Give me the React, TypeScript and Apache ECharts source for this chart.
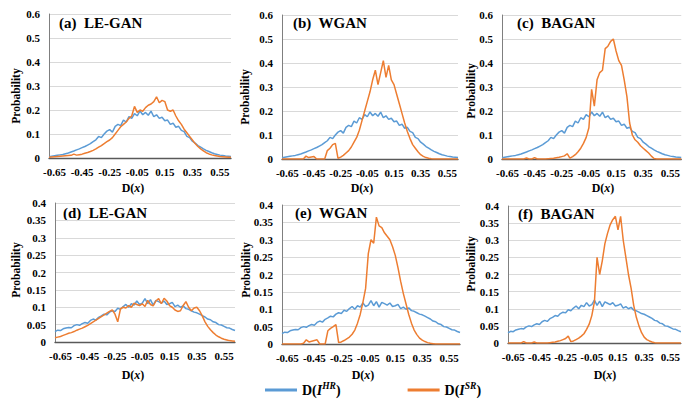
import React, { useEffect, useRef } from "react";
import * as echarts from "echarts";

const X_CATS = [
  "-0.69", "-0.67", "-0.65", "-0.63", "-0.61", "-0.59", "-0.57", "-0.55", "-0.53", "-0.51",
  "-0.49", "-0.47", "-0.45", "-0.43", "-0.41", "-0.39", "-0.37", "-0.35", "-0.33", "-0.31",
  "-0.29", "-0.27", "-0.25", "-0.23", "-0.21", "-0.19", "-0.17", "-0.15", "-0.13", "-0.11",
  "-0.09", "-0.07", "-0.05", "-0.03", "-0.01", "0.01", "0.03", "0.05", "0.07", "0.09",
  "0.11", "0.13", "0.15", "0.17", "0.19", "0.21", "0.23", "0.25", "0.27", "0.29",
  "0.31", "0.33", "0.35", "0.37", "0.39", "0.41", "0.43", "0.45", "0.47", "0.49",
  "0.51", "0.53", "0.55", "0.57", "0.59", "0.61", "0.63",
];
const X_TICKS = ["-0.65", "-0.45", "-0.25", "-0.05", "0.15", "0.35", "0.55"];

const HR_TOP = [
  0.005, 0.007, 0.009, 0.011, 0.013, 0.015, 0.018, 0.021, 0.025, 0.029,
  0.034, 0.038, 0.043, 0.048, 0.054, 0.06, 0.068, 0.076, 0.09, 0.085,
  0.1, 0.112, 0.118, 0.108, 0.132, 0.14, 0.135, 0.158, 0.15, 0.172,
  0.165, 0.185, 0.176, 0.196, 0.18, 0.19, 0.178, 0.195, 0.172, 0.18,
  0.165, 0.17, 0.155, 0.158, 0.14, 0.145, 0.128, 0.132, 0.115, 0.11,
  0.09, 0.085, 0.07, 0.062, 0.052, 0.045, 0.038, 0.032, 0.027, 0.022,
  0.018, 0.015, 0.012, 0.01, 0.008, 0.007, 0.006,
];
const SR_A = [
  0.003, 0.004, 0.005, 0.006, 0.007, 0.008, 0.009, 0.01, 0.011, 0.016,
  0.012, 0.014, 0.016, 0.02, 0.023, 0.027, 0.032, 0.038, 0.045, 0.052,
  0.06, 0.068, 0.075, 0.085, 0.1, 0.115, 0.13, 0.14, 0.15, 0.165,
  0.175, 0.215, 0.19, 0.2, 0.195, 0.21, 0.22, 0.225, 0.235, 0.255,
  0.23, 0.24, 0.235, 0.2, 0.195, 0.2, 0.175, 0.155, 0.14, 0.12,
  0.105, 0.09, 0.075, 0.06, 0.048, 0.038, 0.03, 0.022, 0.017, 0.013,
  0.01, 0.008, 0.006, 0.005, 0.004, 0.003, 0.003,
];
const SR_B = [
  0, 0, 0, 0, 0, 0, 0, 0, 0, 0.012,
  0.006, 0.008, 0.01, 0, 0, 0, 0, 0.035, 0.045, 0.06,
  0.065, 0.003, 0.008, 0.015, 0.025, 0.035, 0.05, 0.07, 0.09, 0.12,
  0.16, 0.2, 0.24, 0.28, 0.33, 0.37, 0.31, 0.36, 0.41, 0.34,
  0.39, 0.33, 0.31, 0.27, 0.23, 0.19, 0.15, 0.115, 0.085, 0.06,
  0.045, 0.03, 0.018, 0.011, 0.006, 0.003, 0.001, 0, 0, 0,
  0, 0, 0, 0, 0, 0, 0,
];
const SR_C = [
  0, 0, 0, 0, 0, 0, 0, 0, 0, 0.004,
  0, 0, 0.006, 0, 0, 0, 0, 0.001, 0.002, 0.003,
  0.005, 0.007, 0.01, 0.013, 0.022, 0.004, 0.01, 0.018, 0.03, 0.045,
  0.065, 0.09, 0.13, 0.29, 0.22, 0.33, 0.36, 0.37, 0.46, 0.47,
  0.49, 0.5, 0.45, 0.41, 0.39, 0.33, 0.26, 0.15, 0.1, 0.08,
  0.07, 0.055, 0.045, 0.035, 0.025, 0.012, 0.002, 0, 0, 0,
  0, 0, 0, 0, 0, 0, 0,
];
const HR_BOT = [
  0.03, 0.034, 0.033, 0.038, 0.04, 0.042, 0.041, 0.047, 0.05, 0.048,
  0.053, 0.056, 0.054, 0.062, 0.066, 0.063, 0.071, 0.075, 0.08, 0.078,
  0.086, 0.09, 0.088, 0.097, 0.094, 0.102, 0.108, 0.1, 0.11, 0.106,
  0.118, 0.108, 0.112, 0.125, 0.11, 0.122, 0.106, 0.12, 0.116, 0.112,
  0.118, 0.108, 0.11, 0.114, 0.102, 0.106, 0.1, 0.104, 0.096, 0.094,
  0.09, 0.086, 0.084, 0.08, 0.076, 0.072, 0.066, 0.064, 0.058, 0.056,
  0.05, 0.049, 0.045, 0.041, 0.04, 0.036, 0.033,
];
const SR_D = [
  0.012, 0.014, 0.016, 0.019, 0.022, 0.025, 0.027, 0.03, 0.034, 0.037,
  0.04, 0.044, 0.048, 0.053, 0.058, 0.063, 0.068, 0.073, 0.078, 0.083,
  0.088, 0.092, 0.08, 0.058, 0.095, 0.1, 0.098, 0.105, 0.1, 0.112,
  0.108, 0.105, 0.11, 0.102, 0.12, 0.108, 0.104, 0.118, 0.125, 0.11,
  0.126, 0.118, 0.105, 0.1, 0.092, 0.088, 0.09, 0.105, 0.116, 0.1,
  0.09, 0.098, 0.1, 0.09, 0.075, 0.058, 0.045, 0.035, 0.027, 0.02,
  0.015, 0.011, 0.008, 0.006, 0.004, 0.003, 0.002,
];
const SR_E = [
  0, 0, 0, 0, 0, 0, 0, 0, 0.002, 0.012,
  0.006, 0.008, 0.01, 0.012, 0, 0, 0, 0.038, 0.045, 0.05,
  0.056, 0.004, 0.006, 0.01, 0.015, 0.02, 0.028, 0.04, 0.06, 0.085,
  0.12, 0.16, 0.26, 0.3, 0.29, 0.365, 0.34, 0.335, 0.32, 0.31,
  0.3, 0.28, 0.255, 0.22, 0.18, 0.145, 0.115, 0.085, 0.06, 0.04,
  0.027, 0.017, 0.011, 0.007, 0.004, 0.002, 0.001, 0, 0, 0,
  0, 0, 0, 0, 0, 0, 0,
];
const SR_F = [
  0, 0, 0, 0, 0, 0, 0.004, 0, 0, 0,
  0.003, 0, 0, 0, 0, 0, 0.001, 0.002, 0.003, 0.005,
  0.007, 0.01, 0.013, 0.02, 0.004, 0.006, 0.01, 0.014, 0.02, 0.027,
  0.04, 0.055, 0.08, 0.12, 0.25, 0.2, 0.24, 0.29, 0.32, 0.345,
  0.36, 0.37, 0.33, 0.37, 0.3, 0.25, 0.2, 0.16, 0.11, 0.075,
  0.05, 0.03, 0.017, 0.01, 0.006, 0.003, 0.001, 0, 0, 0,
  0, 0, 0, 0, 0, 0, 0,
];

const TITLES = ["(a)  LE-GAN", "(b)  WGAN", "(c)  BAGAN", "(d)  LE-GAN", "(e)  WGAN", "(f)  BAGAN"];
const HR_SERIES = [HR_TOP, HR_TOP, HR_TOP, HR_BOT, HR_BOT, HR_BOT];
const SR_SERIES = [SR_A, SR_B, SR_C, SR_D, SR_E, SR_F];
const Y_MAX = [0.6, 0.6, 0.6, 0.4, 0.4, 0.4];
const Y_STEP = [0.1, 0.1, 0.1, 0.05, 0.05, 0.05];
const HR_NAME = "D(I^HR)";
const SR_NAME = "D(I^SR)";
const Y_NAME = "Probability";

const LAYOUT = [
  { left: 49, top: 14, width: 182, height: 144, tx: 59, ty: 23, px: 16, py: 96, dx: 133, dy: 188 },
  { left: 282, top: 15, width: 176, height: 144, tx: 293, ty: 23, px: 245, py: 97, dx: 362, dy: 188 },
  { left: 502, top: 15, width: 181, height: 144, tx: 517, ty: 23, px: 471, py: 91, dx: 603, dy: 188 },
  { left: 55, top: 203, width: 180, height: 139, tx: 63, ty: 213, px: 16, py: 270, dx: 133, dy: 375 },
  { left: 282, top: 205, width: 178, height: 139, tx: 295, ty: 213, px: 246, py: 270, dx: 363, dy: 375 },
  { left: 508, top: 206, width: 175, height: 137, tx: 518, ty: 214, px: 471, py: 264, dx: 605, dy: 375 },
];

const FONT = "Liberation Serif";
const BLUE = "#5B9BD5";
const ORANGE = "#ED7D31";

export default function App() {
  const ref = useRef<HTMLDivElement>(null);
  useEffect(() => {
    if (!ref.current) return;
    const chart = echarts.init(ref.current, undefined, { renderer: "svg" });
    const grids: any[] = [];
    const xAxes: any[] = [];
    const yAxes: any[] = [];
    const series: any[] = [];
    const graphics: any[] = [];
    LAYOUT.forEach((L, i) => {
      grids.push({ left: L.left, top: L.top, width: L.width, height: L.height, containLabel: false });
      xAxes.push({
        type: "category",
        gridIndex: i,
        data: X_CATS,
        boundaryGap: false,
        axisLine: { lineStyle: { color: "#595959", width: 1.3 } },
        axisTick: { show: false },
        splitLine: { show: false },
        axisLabel: {
          interval: (_idx: number, val: string) => X_TICKS.includes(val),
          margin: 8,
          color: "#000",
          fontFamily: FONT,
          fontWeight: "bold",
          fontSize: 11,
        },
      });
      yAxes.push({
        type: "value",
        gridIndex: i,
        min: 0,
        max: Y_MAX[i],
        interval: Y_STEP[i],
        axisLine: { show: true, lineStyle: { color: "#7f7f7f", width: 1 } },
        axisTick: { show: false },
        splitLine: { lineStyle: { color: "#d9d9d9", width: 1 } },
        axisLabel: {
          margin: 9,
          color: "#000",
          fontFamily: FONT,
          fontWeight: "bold",
          fontSize: 11,
        },
      });
      series.push({
        type: "line",
        name: HR_NAME,
        xAxisIndex: i,
        yAxisIndex: i,
        data: HR_SERIES[i],
        showSymbol: false,
        lineStyle: { color: BLUE, width: 1.5 },
        itemStyle: { color: BLUE },
      });
      series.push({
        type: "line",
        name: SR_NAME,
        xAxisIndex: i,
        yAxisIndex: i,
        data: SR_SERIES[i],
        showSymbol: false,
        lineStyle: { color: ORANGE, width: 1.5 },
        itemStyle: { color: ORANGE },
      });
      graphics.push({
        type: "text",
        x: L.tx,
        y: L.ty,
        style: {
          text: TITLES[i],
          fill: "#000",
          fontFamily: FONT,
          fontWeight: "bold",
          fontSize: 15,
          align: "left",
          verticalAlign: "middle",
        },
      });
      graphics.push({
        type: "text",
        x: L.px,
        y: L.py,
        rotation: Math.PI / 2,
        style: {
          text: Y_NAME,
          fill: "#000",
          fontFamily: FONT,
          fontWeight: "bold",
          fontSize: 11.5,
          align: "center",
          verticalAlign: "middle",
        },
      });
      graphics.push({
        type: "text",
        x: L.dx,
        y: L.dy,
        style: {
          text: "{n|D(}{i|x}{n|)}",
          align: "center",
          verticalAlign: "middle",
          rich: {
            n: { fontFamily: FONT, fontWeight: "bold", fontSize: 12, fill: "#000" },
            i: { fontFamily: FONT, fontWeight: "bold", fontStyle: "italic", fontSize: 12, fill: "#000" },
          },
        },
      });
    });

    chart.setOption({
      animation: false,
      backgroundColor: "#ffffff",
      grid: grids,
      xAxis: xAxes,
      yAxis: yAxes,
      series,
      graphic: graphics,
      legend: {
        left: 260,
        top: 376,
        icon: "rect",
        itemWidth: 32,
        itemHeight: 3,
        itemGap: 67,
        selectedMode: false,
        data: [HR_NAME, SR_NAME],
        formatter: (name: string) =>
          name === HR_NAME ? "{n|D(}{i|I}{s|HR}{n|)}" : "{n|D(}{i|I}{s|SR}{n|)}",
        textStyle: {
          rich: {
            n: { fontFamily: FONT, fontWeight: "bold", fontSize: 14, color: "#000" },
            i: { fontFamily: FONT, fontWeight: "bold", fontStyle: "italic", fontSize: 14, color: "#000" },
            s: {
              fontFamily: FONT,
              fontWeight: "bold",
              fontStyle: "italic",
              fontSize: 9.5,
              color: "#000",
              padding: [0, 0, 8, 0],
            },
          },
        },
      },
    });
    return () => chart.dispose();
  }, []);
  return (
    <div
      ref={ref}
      style={{ position: "fixed", left: 0, top: 0, width: 683, height: 403, background: "#fff" }}
    />
  );
}
